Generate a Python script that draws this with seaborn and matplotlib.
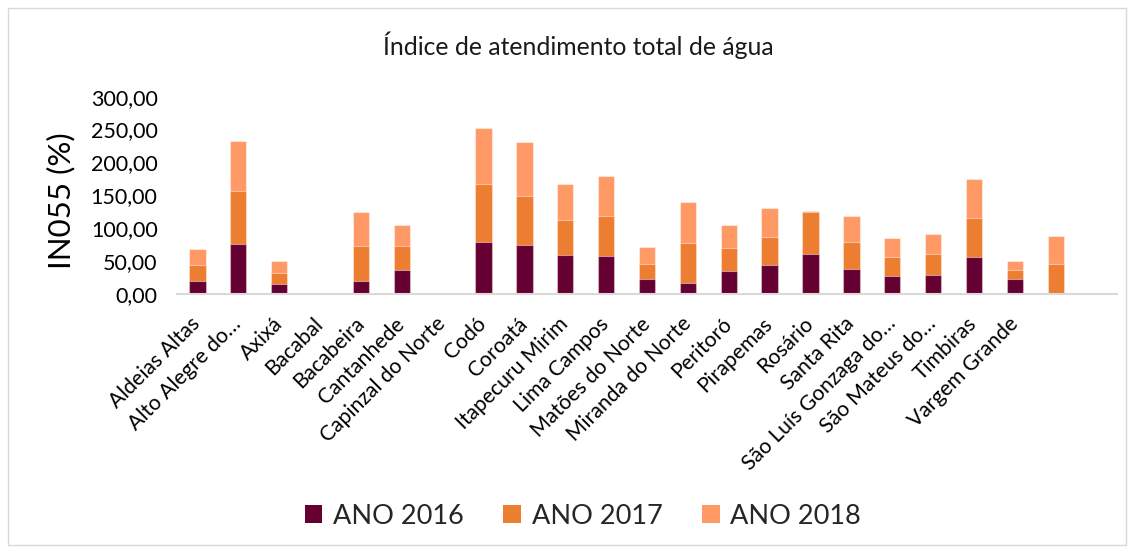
import matplotlib
matplotlib.use("Agg")
import matplotlib.pyplot as plt
from matplotlib.patches import Patch, Rectangle
from matplotlib.ticker import FuncFormatter
import numpy as np
import pandas as pd
import seaborn as sns

# Municipalities (the last two slots carry no name)
municipios = [
    "Aldeias Altas", "Alto Alegre do…", "Axixá", "Bacabal", "Bacabeira",
    "Cantanhede", "Capinzal do Norte", "Codó", "Coroatá", "Itapecuru Mirim",
    "Lima Campos", "Matões do Norte", "Miranda do Norte", "Peritoró",
    "Pirapemas", "Rosário", "Santa Rita", "São Luís Gonzaga do…",
    "São Mateus do…", "Timbiras", "Vargem Grande", "", "",
]

# IN055 - total water service index (%) per year
ano_2016 = [20.6, 76.7, 16.1, 0.0, 20.6, 37.3, 0.0, 78.8, 75.2, 59.1, 58.5,
            23.6, 17.6, 35.8, 44.8, 61.5, 38.8, 27.3, 29.7, 57.0, 23.0, 0.0, 0.0]
ano_2017 = [23.8, 79.8, 16.6, 0.0, 52.6, 35.9, 0.0, 87.9, 74.2, 53.9, 60.6,
            22.8, 60.6, 34.8, 42.5, 63.2, 40.4, 29.7, 30.9, 59.1, 13.2, 45.5, 0.0]
ano_2018 = [23.8, 75.8, 17.8, 0.0, 51.5, 32.3, 0.0, 86.3, 82.4, 54.1, 59.7,
            25.7, 61.2, 34.4, 43.5, 1.5, 39.9, 28.3, 30.3, 58.6, 13.6, 42.8, 0.0]

series = ["ANO 2016", "ANO 2017", "ANO 2018"]
cores = ["#660033", "#ED7D31", "#FF9966"]

df = pd.DataFrame({
    "pos": np.arange(len(municipios)),
    "ANO 2016": ano_2016,
    "ANO 2017": ano_2017,
    "ANO 2018": ano_2018,
})
# Cumulative heights for stacking
df["c2016"] = df["ANO 2016"]
df["c2017"] = df["c2016"] + df["ANO 2017"]
df["c2018"] = df["c2017"] + df["ANO 2018"]

sns.set_theme(style="white")
plt.rcParams["font.family"] = ["Lato", "DejaVu Sans"]

fig = plt.figure(figsize=(11.34, 5.54), dpi=100)
ax = fig.add_axes([177 / 1134, 1 - 294.3 / 554, 940 / 1134, (294.3 - 96.6) / 554])

edge = (1, 1, 1, 0.45)
for col, cor in zip(["c2018", "c2017", "c2016"], cores[::-1]):
    sns.barplot(data=df, x="pos", y=col, color=cor, width=0.4,
                saturation=1, edgecolor=edge, linewidth=0.8, ax=ax,
                errorbar=None)

ax.set_xlim(-0.5, len(municipios) - 0.5)
ax.set_ylim(0, 300)
ax.set_yticks(np.arange(0, 301, 50))
ax.yaxis.set_major_formatter(FuncFormatter(lambda v, p: f"{v:.2f}".replace(".", ",")))
ax.tick_params(axis="y", length=0, pad=14, labelsize=15.5, labelcolor="#000000")
ax.tick_params(axis="x", length=0, pad=19, labelsize=15.2, labelcolor="#000000")
ax.set_xticks(df["pos"])
ax.set_xticklabels(municipios, rotation=45, ha="right", va="center",
                   rotation_mode="anchor")
ax.set_xlabel("")
ax.set_ylabel("")

for s in ["top", "right", "left"]:
    ax.spines[s].set_visible(False)
ax.spines["bottom"].set_color("#d9d9d9")
ax.spines["bottom"].set_linewidth(1.5)

fig.text(578 / 1134, 1 - 45 / 554, "Índice de atendimento total de água",
         ha="center", va="center", fontsize=17.8, color="#1a1a1a")
fig.text(61 / 1134, 1 - 201 / 554, "IN055 (%)", rotation=90,
         ha="center", va="center", fontsize=22.5, color="#000000")

handles = [Patch(facecolor=c, edgecolor="none", label=s) for s, c in zip(series, cores)]
fig.legend(handles=handles, loc="center", bbox_to_anchor=(583 / 1134, 1 - 516 / 554),
           ncol=3, frameon=False, fontsize=19.5, handlelength=0.65, handleheight=0.65,
           handletextpad=0.4, columnspacing=1.45)

fig.patches.append(Rectangle((8 / 1134, 9 / 554), 1118 / 1134, 537 / 554,
                             transform=fig.transFigure, fill=False,
                             edgecolor="#d9d9d9", linewidth=1.0))

fig.savefig("out.png", dpi=100)
